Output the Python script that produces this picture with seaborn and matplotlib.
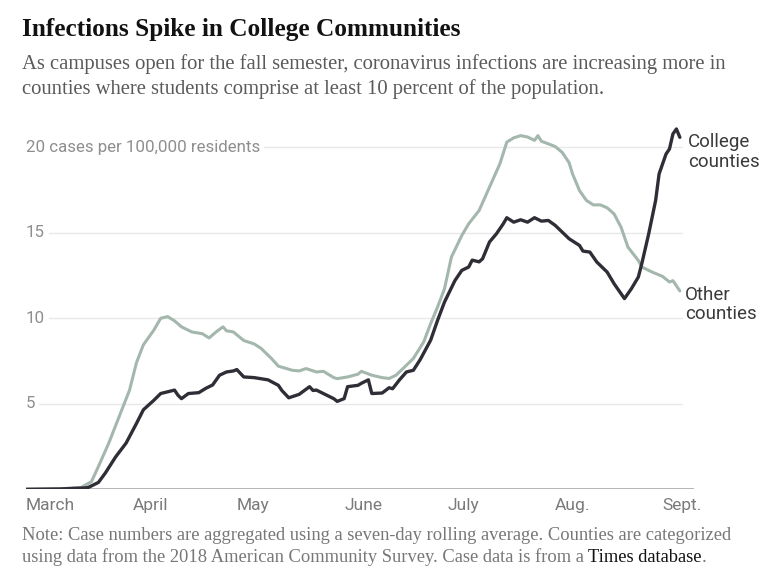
import pandas as pd
import matplotlib
matplotlib.use("Agg")
import matplotlib.pyplot as plt
import seaborn as sns

# =========================
# Dados
# =========================

start = pd.Timestamp("2020-03-01")

college_days = [0, 10, 17, 18, 21, 23, 26, 29, 32, 34, 37, 39, 41, 43, 44, 45, 47, 50,
                52, 54, 56, 58, 60, 61, 63, 66, 70, 73, 74, 76, 79, 82, 83, 84, 86, 89,
                90, 92, 93, 96, 97, 99, 100, 103, 105, 106, 108, 110, 112, 114, 117, 119,
                121, 124, 126, 128, 129, 131, 132, 134, 136, 138, 139, 141, 143, 145, 147,
                149, 151, 153, 155, 157, 160, 161, 163, 165, 168, 170, 173, 175, 177, 178,
                180, 182, 183, 185, 186, 187, 188, 189]
college_cases = [0.0, 0.02, 0.08, 0.1, 0.4, 0.95, 1.9, 2.7, 3.85, 4.65, 5.2, 5.6, 5.7, 5.8,
                 5.5, 5.3, 5.6, 5.65, 5.9, 6.1, 6.67, 6.86, 6.92, 7.0, 6.57, 6.53, 6.4, 6.08,
                 5.78, 5.35, 5.55, 6.0, 5.78, 5.8, 5.6, 5.3, 5.14, 5.3, 6.0, 6.08, 6.2, 6.4,
                 5.6, 5.63, 5.94, 5.88, 6.4, 6.86, 6.96, 7.59, 8.72, 9.88, 10.95, 12.2, 12.8,
                 13.0, 13.4, 13.3, 13.48, 14.46, 14.94, 15.53, 15.88, 15.62, 15.76, 15.62,
                 15.88, 15.68, 15.72, 15.43, 15.04, 14.65, 14.26, 13.93, 13.87, 13.29, 12.7,
                 12.02, 11.15, 11.73, 12.41, 13.19, 14.94, 16.89, 18.44, 19.6, 19.9, 20.78,
                 21.07, 20.58]

other_days = [0, 10, 16, 19, 21, 24, 27, 30, 32, 34, 37, 39, 41, 43, 45, 48, 51, 53, 55,
              57, 58, 60, 63, 66, 68, 71, 73, 77, 79, 81, 84, 86, 89, 90, 93, 96, 97, 100,
              103, 105, 107, 109, 112, 115, 117, 119, 121, 123, 126, 128, 131, 134, 137,
              139, 141, 143, 145, 147, 148, 149, 151, 153, 155, 157, 158, 160, 162, 164,
              166, 168, 170, 172, 174, 177, 178, 181, 184, 186, 187, 189]
other_cases = [0.0, 0.03, 0.1, 0.45, 1.33, 2.7, 4.25, 5.8, 7.4, 8.45, 9.3, 10.0, 10.1, 9.85,
               9.5, 9.2, 9.1, 8.85, 9.2, 9.5, 9.27, 9.2, 8.7, 8.5, 8.24, 7.65, 7.2, 6.96,
               6.92, 7.06, 6.86, 6.9, 6.53, 6.47, 6.57, 6.73, 6.9, 6.67, 6.53, 6.48, 6.67,
               7.06, 7.65, 8.62, 9.69, 10.66, 11.73, 13.58, 14.84, 15.53, 16.3, 17.67, 19.03,
               20.3, 20.55, 20.68, 20.6, 20.4, 20.68, 20.35, 20.2, 20.04, 19.7, 19.1, 18.44,
               17.47, 16.89, 16.63, 16.63, 16.46, 16.1, 15.33, 14.16, 13.38, 13.0, 12.7,
               12.45, 12.12, 12.2, 11.6]

month_starts = ["2020-03-01", "2020-04-01", "2020-05-01", "2020-06-01",
                "2020-07-01", "2020-08-01", "2020-09-01"]
month_labels = ["March", "April", "May", "June", "July", "Aug.", "Sept."]
y_ticks = [5, 10, 15, 20]
y_labels = ["5", "10", "15", "20 cases per 100,000 residents"]

college = pd.DataFrame({"date": start + pd.to_timedelta(college_days, unit="D"),
                        "cases": college_cases})
other = pd.DataFrame({"date": start + pd.to_timedelta(other_days, unit="D"),
                      "cases": other_cases})

# =========================
# Figura
# =========================

sns.set_theme(style="white")
plt.rcParams["font.family"] = ["Roboto", "DejaVu Sans"]

W, H = 769, 586
fig = plt.figure(figsize=(W / 100, H / 100), dpi=100)
ax = fig.add_axes([25.7 / W, (H - 489.3) / H, 668 / W, (489.3 - 121.6) / H])

end = start + pd.Timedelta(days=193)
ax.set_xlim(start, end)
ax.set_ylim(0, 21.5)

# grade
for y in y_ticks:
    ax.axhline(y, xmin=0, xmax=(682 - 25.7) / 668, color="#e8e8e8", lw=1, zorder=0)
ax.axhline(0, color="#a8a8a8", lw=1.2, zorder=1)

sns.lineplot(data=other, x="date", y="cases", ax=ax, color="#a3b7ad", lw=2.2, zorder=3)
sns.lineplot(data=college, x="date", y="cases", ax=ax, color="#2f2e36", lw=2.4, zorder=4)

for y, lab in zip(y_ticks, y_labels):
    ax.text(start, y, lab, ha="left", va="center", fontsize=12.2, color="#8e8e8e",
            zorder=2, bbox=dict(fc="white", ec="none", pad=3))

ax.set_xticks(pd.to_datetime(month_starts))
ax.set_xticklabels(month_labels, ha="left", fontsize=12.5, color="#7a7a7a")
ax.tick_params(axis="x", length=0, pad=6)
ax.set_yticks([])
ax.set_xlabel("")
ax.set_ylabel("")
sns.despine(ax=ax, left=True, bottom=True)

# rótulos das linhas
fig.text(688 / W, 1 - 152 / H, "College\ncounties", ha="left", va="center",
         fontsize=13.5, color="#3a3a3a", linespacing=1.1)
fig.text(685 / W, 1 - 304.5 / H, "Other\ncounties", ha="left", va="center",
         fontsize=13.5, color="#3a3a3a", linespacing=1.1)

# título, subtítulo e nota
serif = ["Liberation Serif", "DejaVu Serif"]
fig.text(22 / W, 1 - 36 / H, "Infections Spike in College Communities", ha="left",
         va="baseline", fontsize=18.2, fontweight="bold", family=serif, color="#121212")
fig.text(22 / W, 1 - 69 / H,
         "As campuses open for the fall semester, coronavirus infections are increasing more in",
         ha="left", va="baseline", fontsize=14.9, family=serif, color="#5a5a5a")
fig.text(22 / W, 1 - 94 / H,
         "counties where students comprise at least 10 percent of the population.",
         ha="left", va="baseline", fontsize=14.9, family=serif, color="#5a5a5a")

fig.text(22 / W, 1 - 540 / H,
         "Note: Case numbers are aggregated using a seven-day rolling average. Counties are categorized",
         ha="left", va="baseline", fontsize=13.3, family=serif, color="#777777")
note2 = fig.text(22 / W, 1 - 562 / H,
                 "using data from the 2018 American Community Survey. Case data is from a ",
                 ha="left", va="baseline", fontsize=13.3, family=serif, color="#777777")
renderer = fig.canvas.get_renderer()
bb = note2.get_window_extent(renderer=renderer)
link = fig.text(bb.x1 / W, 1 - 562 / H, "Times database", ha="left", va="baseline",
                fontsize=13.3, family=serif, color="#121212")
bb2 = link.get_window_extent(renderer=renderer)
fig.text(bb2.x1 / W, 1 - 562 / H, ".", ha="left", va="baseline",
         fontsize=13.3, family=serif, color="#777777")

fig.savefig("out.png", dpi=100, facecolor="white")
